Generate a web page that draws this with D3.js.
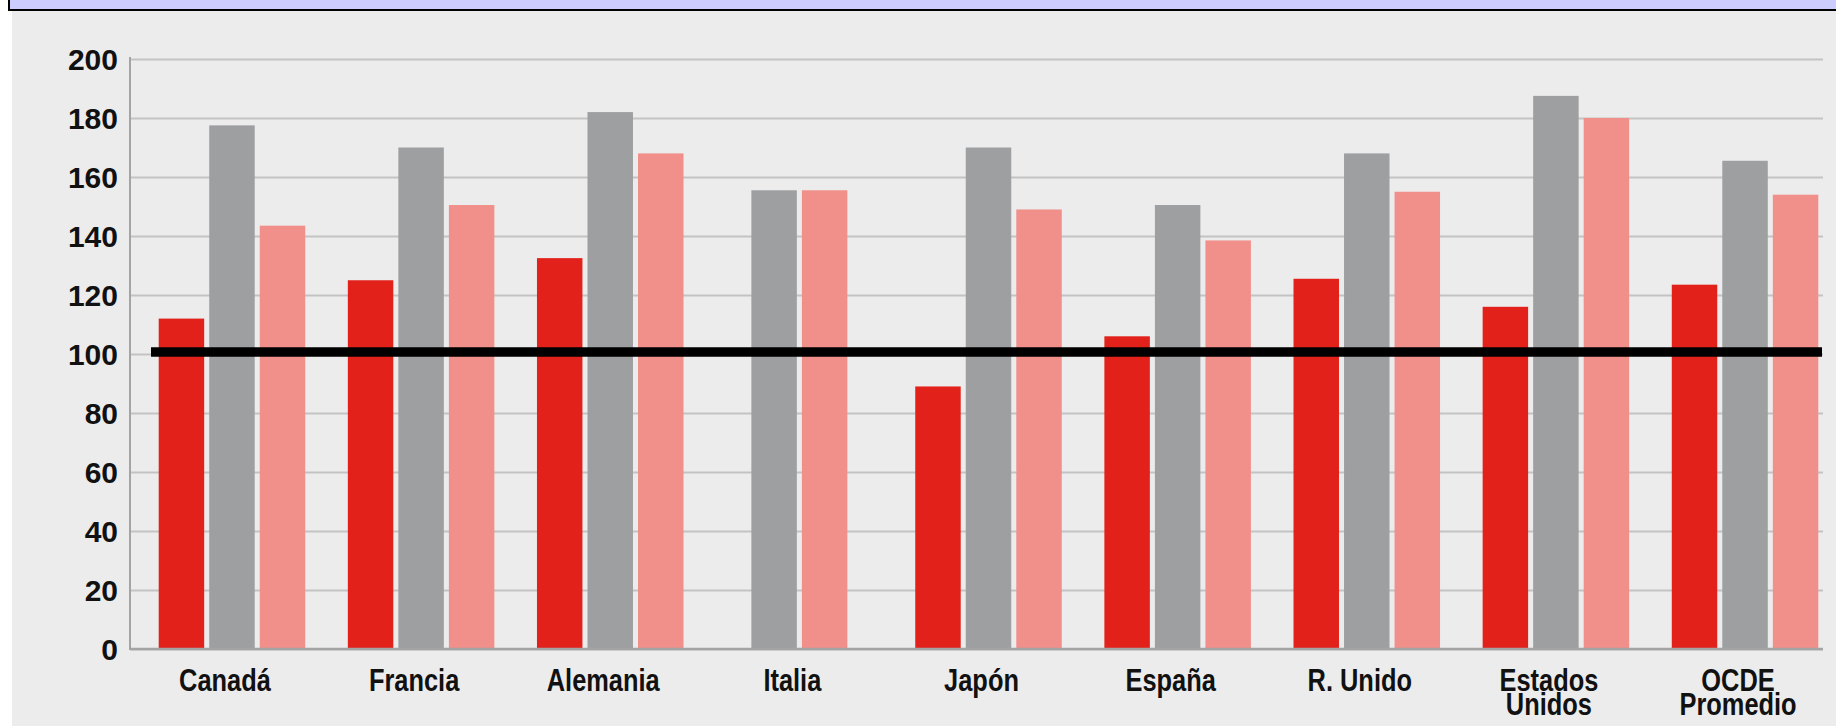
<!DOCTYPE html>
<html>
<head>
<meta charset="utf-8">
<script src="https://cdn.jsdelivr.net/npm/d3@7"></script>
<style>
  html, body { margin: 0; padding: 0; background: #ffffff; }
  svg { display: block; }
</style>
</head>
<body>
<script>
// ---- data ----
const categories = ["Canadá", "Francia", "Alemania", "Italia", "Japón", "España", "R. Unido", "Estados\nUnidos", "OCDE\nPromedio"];
const seriesKeys = ["serie1", "serie2", "serie3"];
const serie1 = [112, 125, 132.5, null, 89, 106, 125.5, 116, 123.5];
const serie2 = [177.5, 170, 182, 155.5, 170, 150.5, 168, 187.5, 165.5];
const serie3 = [143.5, 150.5, 168, 155.5, 149, 138.5, 155, 180, 154];
const yTicks = [0, 20, 40, 60, 80, 100, 120, 140, 160, 180, 200];
const referenceValue = 100;

const seriesColors = { serie1: "#e2211a", serie2: "#9e9fa1", serie3: "#f18f8a" };

// ---- layout ----
const W = 1836, H = 726;
const axisX = 130, gridRight = 1823;
const y0 = 649, y200 = 59;

const svg = d3.select("body").append("svg").attr("width", W).attr("height", H);

// backgrounds
svg.append("rect").attr("x", 12).attr("y", 10).attr("width", W - 12).attr("height", H - 10).attr("fill", "#ececec");
svg.append("rect").attr("x", 9).attr("y", -4).attr("width", W + 10).attr("height", 14)
  .attr("fill", "#ccccff").attr("stroke", "#000").attr("stroke-width", 2);

const table = categories.map((c, i) => ({ cat: c, serie1: serie1[i], serie2: serie2[i], serie3: serie3[i] }));

const x0 = d3.scaleBand().domain(categories).range([158.7, 1818.3]).paddingInner(0.2253).paddingOuter(0);
const x1 = d3.scaleBand().domain(seriesKeys).range([0, x0.bandwidth()]).paddingInner(0.1);
const y = d3.scaleLinear().domain([0, 200]).range([y0, y200]);

// gridlines + tick labels
const yAxis = d3.axisLeft(y).tickValues(yTicks).tickSize(-(gridRight - axisX)).tickPadding(12);
const gAxis = svg.append("g").attr("transform", `translate(${axisX},0)`).call(yAxis);
gAxis.select(".domain").remove();
gAxis.selectAll(".tick line").attr("stroke", "#c3c3c3").attr("stroke-width", 2);
gAxis.selectAll(".tick text")
  .attr("font-family", "'Liberation Sans', Arial, sans-serif")
  .attr("font-weight", "bold").attr("font-size", 30).attr("fill", "#111")
  .attr("dy", "0.36em");

// bars
const groups = svg.append("g").selectAll("g").data(table).join("g")
  .attr("transform", d => `translate(${x0(d.cat)},0)`);
groups.each(function(d) {
  const present = seriesKeys.filter(k => d[k] != null);
  const offset = (seriesKeys.length - present.length) * x1.step() / 2;
  d3.select(this).selectAll("rect").data(present.map((k, i) => ({ key: k, slot: seriesKeys[i], v: d[k] })))
    .join("rect")
    .attr("x", b => x1(b.slot) + offset)
    .attr("y", b => y(b.v))
    .attr("width", x1.bandwidth())
    .attr("height", b => y(0) - y(b.v))
    .attr("fill", b => seriesColors[b.key]);
});

// axis lines
svg.append("line").attr("x1", axisX).attr("x2", axisX).attr("y1", 57).attr("y2", y0 + 1)
  .attr("stroke", "#a4a4a4").attr("stroke-width", 2);
svg.append("line").attr("x1", axisX).attr("x2", gridRight).attr("y1", y0).attr("y2", y0)
  .attr("stroke", "#a4a4a4").attr("stroke-width", 2.5);

// reference line at 100
svg.append("line").attr("x1", 151).attr("x2", 1822).attr("y1", y(referenceValue) - 2).attr("y2", y(referenceValue) - 2)
  .attr("stroke", "#000").attr("stroke-width", 9.5);

// category labels
const xAxis = d3.axisBottom(x0).tickSize(0).tickFormat("");
const gx = svg.append("g").attr("transform", `translate(0,${y0})`).call(xAxis);
gx.select(".domain").remove();
gx.selectAll(".tick").each(function(c) {
  const lines = c.split("\n");
  lines.forEach((ln, i) => {
    d3.select(this).append("text")
      .attr("text-anchor", "middle")
      .attr("font-family", "'Liberation Sans', Arial, sans-serif")
      .attr("font-weight", "bold").attr("font-size", 31).attr("fill", "#111")
      .attr("transform", `translate(-7,${42 + i * 24}) scale(0.82,1)`)
      .text(ln);
  });
});
</script>
</body>
</html>
